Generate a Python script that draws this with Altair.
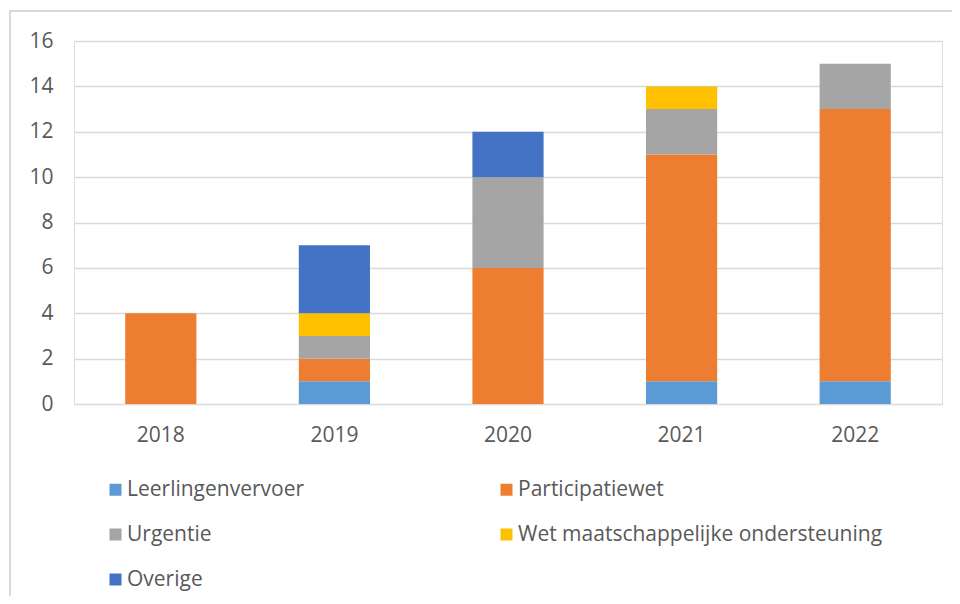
import altair as alt
import pandas as pd

years = ["2018", "2019", "2020", "2021", "2022"]
categories = ["Leerlingenvervoer", "Participatiewet", "Urgentie",
              "Wet maatschappelijke ondersteuning", "Overige"]
colors = ["#5B9BD5", "#ED7D31", "#A5A5A5", "#FFC000", "#4472C4"]

leerlingenvervoer = [0, 1, 0, 1, 1]
participatiewet = [4, 1, 6, 10, 12]
urgentie = [0, 1, 4, 2, 2]
wmo = [0, 1, 0, 1, 0]
overige = [0, 3, 2, 0, 0]

series = [leerlingenvervoer, participatiewet, urgentie, wmo, overige]
y_ticks = [0, 2, 4, 6, 8, 10, 12, 14, 16]

rows = []
for ci, (cat, vals) in enumerate(zip(categories, series)):
    for year, v in zip(years, vals):
        rows.append({"year": year, "category": cat, "value": v, "order": ci})
df = pd.DataFrame(rows)

FONT = "Open Sans"
TXT = "#595959"
GRID = "#D9D9D9"

bars = alt.Chart(df).mark_bar().encode(
    x=alt.X("year:N", sort=years, title=None,
            scale=alt.Scale(paddingInner=0.59, paddingOuter=0.295),
            axis=alt.Axis(labelAngle=0, domain=False, ticks=False, tickSize=0,
                          labelPadding=20, labelFontSize=21, labelColor=TXT,
                          labelFont=FONT, grid=False)),
    y=alt.Y("sum(value):Q", title=None,
            scale=alt.Scale(domain=[0, 16], nice=False),
            axis=alt.Axis(values=y_ticks, domain=False, ticks=False, tickSize=0,
                          labelPadding=21, labelFontSize=21, labelColor=TXT,
                          labelFont=FONT, gridColor=GRID, gridWidth=1.5)),
    color=alt.Color("category:N", sort=categories,
                    scale=alt.Scale(domain=categories, range=colors),
                    legend=alt.Legend(title=None, orient="none", legendX=31,
                                      legendY=438, columns=2, columnPadding=191,
                                      direction="horizontal",
                                      rowPadding=23, symbolType="square",
                                      symbolSize=144, symbolStrokeWidth=0,
                                      labelFontSize=21, labelFont=FONT,
                                      labelColor=TXT, labelOffset=1,
                                      padding=0, labelLimit=500)),
    order=alt.Order("order:Q", sort="ascending"),
)

frame = alt.Chart(alt.Data(values=[{"f": 1}])).mark_rect(
    fillOpacity=0, stroke=GRID, strokeWidth=2
).encode(
    x=alt.value(-64), x2=alt.value(1000),
    y=alt.value(-30), y2=alt.value(620),
)

chart = alt.layer(frame, bars).properties(
    width=868, height=363,
    padding={"left": 66, "top": 33, "right": 10, "bottom": 192},
    autosize=alt.AutoSizeParams(type="none"),
).configure_view(stroke=None).configure(background="white")

chart.save("out.html", embed_options={"renderer": "svg", "actions": False})
